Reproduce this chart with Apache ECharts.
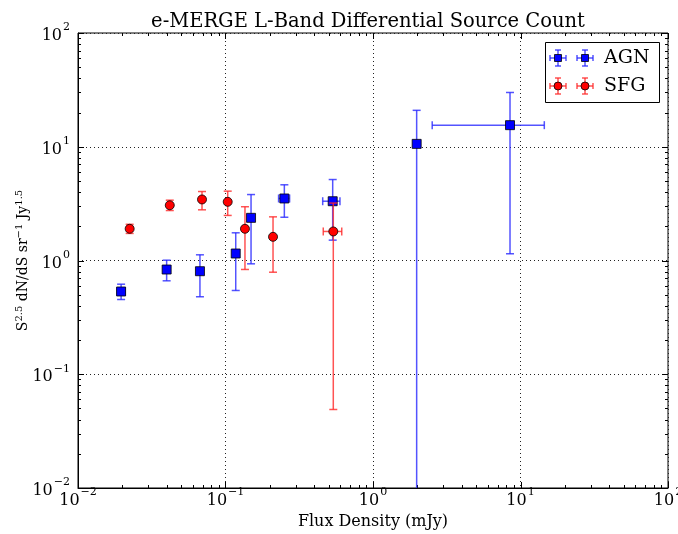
<!DOCTYPE html>
<html><head><meta charset="utf-8">
<script src="https://cdn.jsdelivr.net/npm/echarts@6/dist/echarts.min.js"></script>
<style>html,body{margin:0;padding:0;background:#fff}#c{width:678px;height:534px}</style>
</head><body><div id="c"></div>
<script>
// ---- data ----
const agnX   = [0.0196, 0.0399, 0.0671, 0.1173, 0.149, 0.2506, 0.533, 1.977, 8.49];
const agnY   = [0.534, 0.833, 0.805, 1.152, 2.372, 3.51, 3.32, 10.6, 15.48];
const agnYLo = [0.454, 0.663, 0.48, 0.545, 0.935, 2.4, 1.51, 0.01, 1.146];
const agnYHi = [0.619, 1.006, 1.122, 1.752, 3.8, 4.63, 5.15, 20.9, 30.0];
const agnXLo = [0.0184, 0.0399, 0.0671, 0.1173, 0.149, 0.229, 0.456, 1.977, 2.52];
const agnXHi = [0.0209, 0.0399, 0.0671, 0.1173, 0.149, 0.272, 0.597, 1.977, 14.5];

const sfgX   = [0.0224, 0.0419, 0.0693, 0.1035, 0.1355, 0.21, 0.538];
const sfgY   = [1.9, 3.06, 3.44, 3.28, 1.9, 1.615, 1.8];
const sfgYLo = [1.73, 2.75, 2.79, 2.49, 0.834, 0.789, 0.049];
const sfgYHi = [2.08, 3.39, 4.04, 4.07, 2.97, 2.42, 3.2];
const sfgXLo = [0.0224, 0.0419, 0.0693, 0.1035, 0.1355, 0.21, 0.46];
const sfgXHi = [0.0224, 0.0419, 0.0693, 0.1035, 0.1355, 0.21, 0.614];

const majorTicks = [0.01, 0.1, 1, 10, 100];
const minorMult = [2, 3, 4, 5, 6, 7, 8, 9];
const seriesNames = ['AGN', 'SFG'];
const titleText = 'e-MERGE L-Band Differential Source Count';
const xName = 'Flux Density (mJy)';

// ---- build ----
const AXMIN = 0.01, AXMAX = 100;
const font = 'DejaVu Serif';
const blueErr = 'rgba(40,40,255,0.8)';
const redErr = 'rgba(255,40,40,0.8)';

function rows(x, y, xl, xh, yl, yh) {
  return x.map((v, i) => [v, y[i], xl[i], xh[i], yl[i], yh[i]]);
}
const agnData = rows(agnX, agnY, agnXLo, agnXHi, agnYLo, agnYHi);
const sfgData = rows(sfgX, sfgY, sfgXLo, sfgXHi, sfgYLo, sfgYHi);

const tickData = [];
majorTicks.forEach(v => tickData.push([v, 1]));
majorTicks.slice(0, -1).forEach(d => minorMult.forEach(m => tickData.push([d * m, 0])));

function errRender(color) {
  return function (params, api) {
    const x = api.value(0), y = api.value(1), xl = api.value(2), xh = api.value(3), yl = api.value(4), yh = api.value(5);
    const p = api.coord([x, y]);
    const st = { stroke: color, lineWidth: 1.5 };
    const cap = 4;
    const ch = [];
    const pyl = api.coord([x, Math.max(yl, AXMIN)]);
    const pyh = api.coord([x, yh]);
    ch.push({ type: 'line', shape: { x1: p[0], y1: pyl[1], x2: p[0], y2: pyh[1] }, style: st });
    ch.push({ type: 'line', shape: { x1: p[0] - cap, y1: pyh[1], x2: p[0] + cap, y2: pyh[1] }, style: st });
    if (yl > AXMIN) ch.push({ type: 'line', shape: { x1: p[0] - cap, y1: pyl[1], x2: p[0] + cap, y2: pyl[1] }, style: st });
    if (xl !== x || xh !== x) {
      const pxl = api.coord([xl, y]), pxh = api.coord([xh, y]);
      ch.push({ type: 'line', shape: { x1: pxl[0], y1: p[1], x2: pxh[0], y2: p[1] }, style: st });
      ch.push({ type: 'line', shape: { x1: pxl[0], y1: p[1] - cap, x2: pxl[0], y2: p[1] + cap }, style: st });
      ch.push({ type: 'line', shape: { x1: pxh[0], y1: p[1] - cap, x2: pxh[0], y2: p[1] + cap }, style: st });
    }
    return { type: 'group', children: ch };
  };
}

function tickRender(isX) {
  return function (params, api) {
    const v = api.value(0), major = api.value(1);
    const cs = params.coordSys;
    const L = major ? 6 : 3;
    const st = { stroke: '#000', lineWidth: 1 };
    if (isX) {
      const px = Math.round(api.coord([v, 1])[0]) + 0.5;
      return { type: 'group', children: [
        { type: 'line', shape: { x1: px, y1: cs.y + cs.height, x2: px, y2: cs.y + cs.height - L }, style: st },
        { type: 'line', shape: { x1: px, y1: cs.y, x2: px, y2: cs.y + L }, style: st }
      ] };
    } else {
      const py = Math.round(api.coord([1, v])[1]) + 0.5;
      return { type: 'group', children: [
        { type: 'line', shape: { x1: cs.x, y1: py, x2: cs.x + L, y2: py }, style: st },
        { type: 'line', shape: { x1: cs.x + cs.width, y1: py, x2: cs.x + cs.width - L, y2: py }, style: st }
      ] };
    }
  };
}

const supRich = {
  b: { fontFamily: font, fontSize: 16, color: '#000', lineHeight: 22, verticalAlign: 'bottom' },
  s: { fontFamily: font, fontSize: 11, color: '#000', lineHeight: 22, verticalAlign: 'top', padding: [0, 0, 0, 1] }
};
function powLabel(v) {
  const e = Math.round(Math.log10(v));
  return '{b|10}{s|' + (e < 0 ? '\u2212' + (-e) : e) + '}';
}

const dotted = { color: '#222', width: 1, type: [1, 3] };

const option = {
  animation: false,
  backgroundColor: '#fff',
  title: {
    text: titleText, left: 363, textAlign: 'center', top: 7,
    textStyle: { fontFamily: font, fontSize: 19.5, fontWeight: 'normal', color: '#000' }
  },
  grid: { left: 78, right: 10, top: 33, bottom: 46, show: true, borderColor: '#000', borderWidth: 1,
    backgroundColor: 'transparent', outerBoundsMode: 'none', containLabel: false },
  xAxis: {
    type: 'log', logBase: 10, min: AXMIN, max: AXMAX,
    axisLine: { show: true, lineStyle: { color: '#000' } },
    axisTick: { show: false }, minorTick: { show: false },
    splitLine: { show: true, lineStyle: dotted },
    axisLabel: { formatter: powLabel, rich: supRich, margin: -1 },
    name: xName, nameLocation: 'middle', nameGap: 22,
    nameTextStyle: { fontFamily: font, fontSize: 16, color: '#000' }
  },
  yAxis: {
    type: 'log', logBase: 10, min: AXMIN, max: AXMAX,
    axisLine: { show: true, lineStyle: { color: '#000' } },
    axisTick: { show: false }, minorTick: { show: false },
    splitLine: { show: true, lineStyle: dotted },
    axisLabel: { formatter: powLabel, rich: supRich, margin: 8 },
    name: 'S{s|2.5} dN/dS sr{s|\u22121} Jy{s|1.5}', nameLocation: 'middle', nameGap: 46,
    nameMoveOverlap: false,
    nameTextStyle: { fontFamily: font, fontSize: 14, color: '#000',
      rich: {
        s: { fontFamily: font, fontSize: 10, color: '#000', verticalAlign: 'top', lineHeight: 18 }
      }, lineHeight: 18 }
  },
  series: [
    { type: 'custom', name: 'xticks', data: tickData, renderItem: tickRender(true), z: 1, silent: true },
    { type: 'custom', name: 'yticks', data: tickData, renderItem: tickRender(false), z: 1, silent: true },
    { type: 'custom', name: seriesNames[0] + ' err', data: agnData, renderItem: errRender(blueErr), z: 3, silent: true },
    { type: 'scatter', name: seriesNames[0], data: agnData.map(r => [r[0], r[1]]), symbol: 'rect', symbolSize: 9,
      itemStyle: { color: '#0000ff', borderColor: '#000', borderWidth: 0.8, opacity: 1 }, z: 4 },
    { type: 'custom', name: seriesNames[1] + ' err', data: sfgData, renderItem: errRender(redErr), z: 5, silent: true },
    { type: 'scatter', name: seriesNames[1], data: sfgData.map(r => [r[0], r[1]]), symbol: 'circle', symbolSize: 9,
      itemStyle: { color: '#ff0000', borderColor: '#000', borderWidth: 0.8, opacity: 1 }, z: 6 }
  ],
  graphic: []
};

// legend (matplotlib style, two points per entry)
function legendMarker(cx, cy, color, errColor, shape) {
  const st = { stroke: errColor, lineWidth: 1.5 };
  const h = 8, v = 8, c = 3;
  const g = [
    { type: 'line', shape: { x1: cx - h, y1: cy, x2: cx + h, y2: cy }, style: st },
    { type: 'line', shape: { x1: cx - h, y1: cy - c, x2: cx - h, y2: cy + c }, style: st },
    { type: 'line', shape: { x1: cx + h, y1: cy - c, x2: cx + h, y2: cy + c }, style: st },
    { type: 'line', shape: { x1: cx, y1: cy - v, x2: cx, y2: cy + v }, style: st },
    { type: 'line', shape: { x1: cx - c, y1: cy - v, x2: cx + c, y2: cy - v }, style: st },
    { type: 'line', shape: { x1: cx - c, y1: cy + v, x2: cx + c, y2: cy + v }, style: st }
  ];
  if (shape === 'rect') g.push({ type: 'rect', shape: { x: cx - 3.5, y: cy - 3.5, width: 7, height: 7 }, style: { fill: color, stroke: '#000', lineWidth: 0.8 } });
  else g.push({ type: 'circle', shape: { cx: cx, cy: cy, r: 4 }, style: { fill: color, stroke: '#000', lineWidth: 0.8 } });
  return g;
}
const lg = [];
lg.push({ type: 'rect', shape: { x: 545.5, y: 42.5, width: 114, height: 60 }, style: { fill: '#fff', stroke: '#000', lineWidth: 1 } });
const rowsY = [58, 86];
const cols = [['#0000ff', blueErr, 'rect'], ['#ff0000', redErr, 'circle']];
rowsY.forEach((y, i) => {
  lg.push(...legendMarker(558, y, cols[i][0], cols[i][1], cols[i][2]));
  lg.push(...legendMarker(585, y, cols[i][0], cols[i][1], cols[i][2]));
  lg.push({ type: 'text', style: { x: 604, y: y, text: seriesNames[i], fontFamily: font, fontSize: 19, fill: '#000', textVerticalAlign: 'middle', verticalAlign: 'middle' } });
});
option.graphic = [{ type: 'group', z: 100, children: lg }];

const chart = echarts.init(document.getElementById('c'), null, { renderer: 'canvas' });
chart.setOption(option);
</script></body></html>
